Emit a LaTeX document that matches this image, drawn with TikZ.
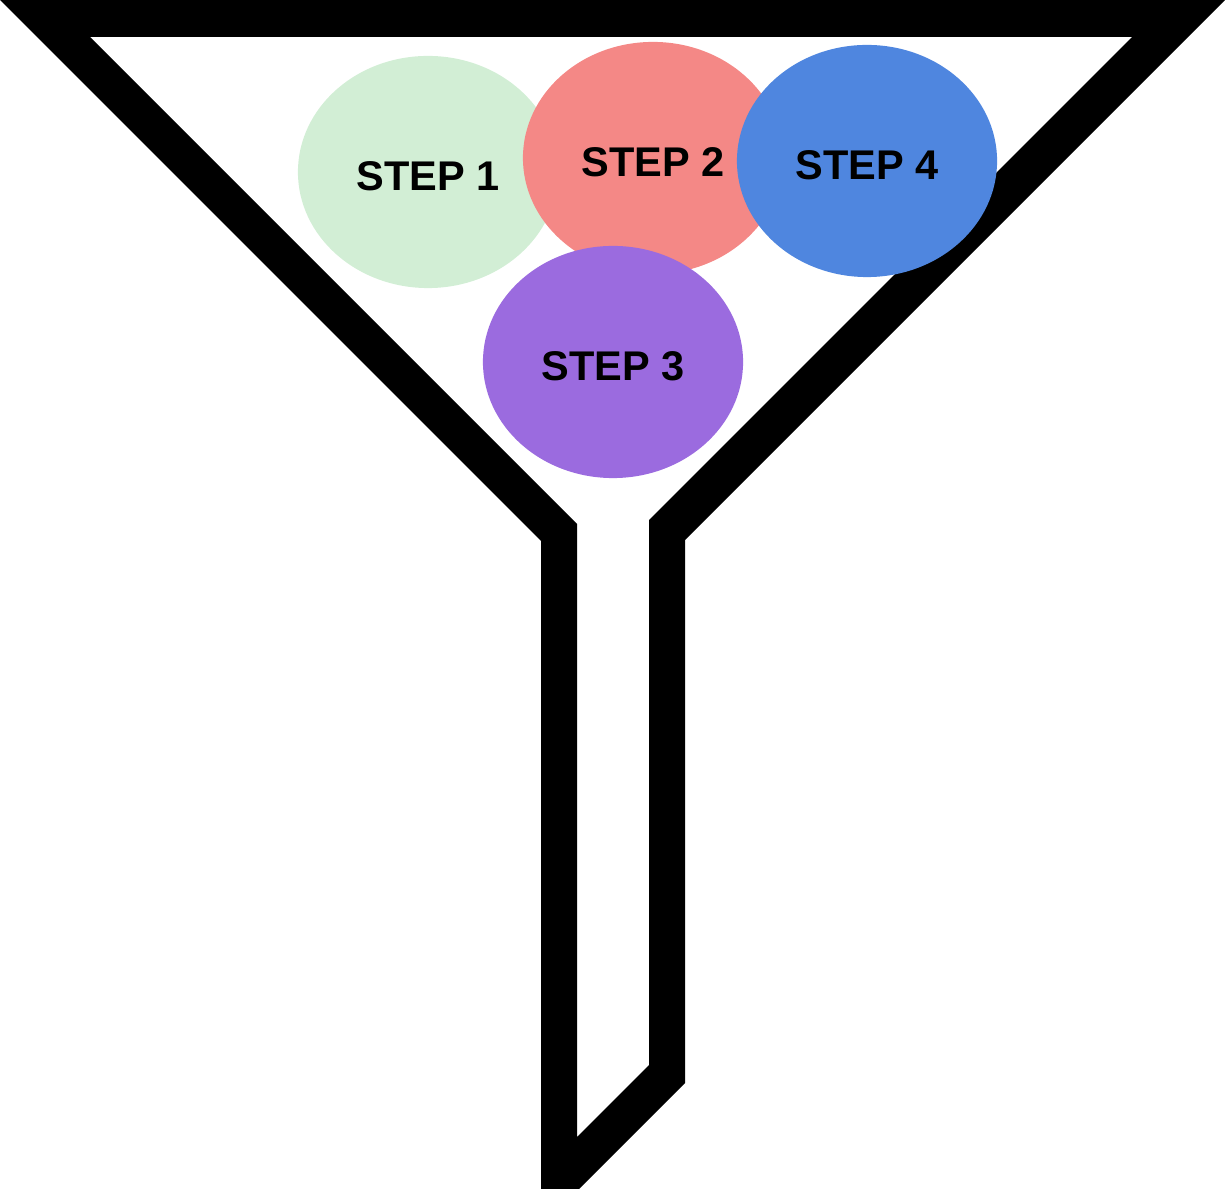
\documentclass[tikz,border=0pt]{standalone}
\usepackage{fontspec}
\setmainfont{Liberation Sans}
\usetikzlibrary{shapes.geometric}

\definecolor{stepgreen}{RGB}{210,238,213}
\definecolor{stepred}{RGB}{244,136,134}
\definecolor{steppurple}{RGB}{155,107,223}
\definecolor{stepblue}{RGB}{79,134,223}

\begin{document}
\begin{tikzpicture}[
    x=0.01cm, y=-0.01cm,
    stepnode/.style={ellipse, minimum width=2.6cm, minimum height=2.32cm, inner sep=0pt, outer sep=0pt,
      text height=0.37cm, text depth=0pt, font=\fontsize{11.8pt}{14pt}\selectfont\bfseries}
]
\useasboundingbox (0,0) rectangle (1225,1189);

% funnel
\fill[black, even odd rule]
  (0,0) -- (1225,0) -- (685,540) -- (685,1083) -- (579,1189) -- (541,1189) -- (541,541) -- cycle
  (90,37) -- (1132,37) -- (649,520) -- (649,1065) -- (577,1137) -- (577,524) -- cycle;

\node[stepnode, fill=stepgreen] (step1) at (428,172) {STEP 1};
\node[stepnode, fill=stepred] (step2) at (653,158) {STEP 2};
\node[stepnode, fill=steppurple] (step3) at (613,362) {STEP 3};
\node[stepnode, fill=stepblue] (step4) at (867,161) {STEP 4};
\end{tikzpicture}
\end{document}
